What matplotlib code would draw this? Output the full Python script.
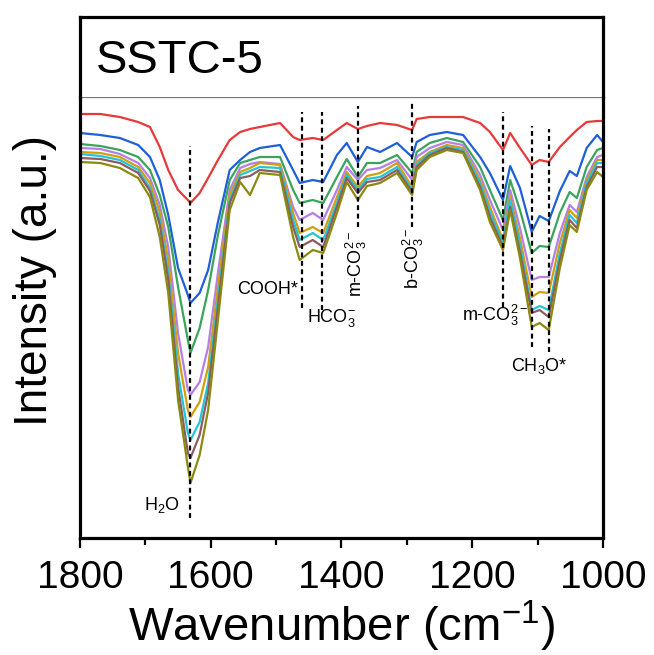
import matplotlib
matplotlib.use('Agg')
import matplotlib.pyplot as plt
from matplotlib.ticker import MultipleLocator

plt.rcParams['font.family'] = ['Liberation Sans', 'DejaVu Sans']
plt.rcParams['mathtext.fontset'] = 'custom'
plt.rcParams['mathtext.rm'] = 'Liberation Sans'
plt.rcParams['mathtext.it'] = 'Liberation Sans:italic'

# wavenumber points (cm-1)
wn = [1800, 1769, 1739, 1711, 1693, 1678, 1665, 1650, 1635, 1631, 1617, 1604, 1589,
      1571, 1555, 1540, 1525, 1494, 1474, 1464, 1444, 1428, 1407, 1392, 1375, 1361,
      1341, 1315, 1292, 1285, 1265, 1239, 1214, 1188, 1173, 1153, 1142, 1127, 1109,
      1097, 1083, 1066, 1051, 1040, 1025, 1009, 1000]

# intensities (a.u.), top curve first
red = [426, 426, 423, 418, 413, 393, 370, 350, 340, 337, 347, 362, 380, 400, 408, 411,
       413, 417, 403, 400, 402, 400, 410, 417, 411, 414, 417, 415, 410, 421, 423, 423,
       423, 417, 408, 390, 407, 392, 375, 380, 378, 393, 403, 410, 418, 419, 419]
blue = [407, 405, 402, 395, 383, 360, 325, 272, 245, 237, 247, 270, 318, 370, 380, 388,
        392, 395, 370, 357, 360, 358, 385, 397, 378, 393, 388, 397, 383, 398, 405, 408,
        405, 383, 367, 340, 374, 352, 308, 324, 319, 349, 369, 364, 392, 405, 398]
green = [396, 394, 390, 383, 370, 345, 313, 253, 200, 187, 212, 250, 305, 360, 377, 380,
         383, 383, 350, 337, 340, 337, 363, 381, 363, 377, 377, 385, 367, 388, 397, 402,
         398, 373, 350, 320, 360, 330, 287, 294, 293, 327, 348, 342, 373, 390, 392]
purple = [392, 391, 386, 377, 362, 335, 293, 207, 150, 145, 158, 193, 267, 350, 372, 376,
          378, 376, 333, 320, 327, 320, 350, 373, 360, 370, 372, 380, 360, 383, 392, 398,
          395, 365, 340, 310, 350, 312, 260, 263, 263, 307, 335, 328, 363, 383, 385]
gold = [388, 387, 383, 373, 357, 328, 280, 187, 130, 123, 138, 173, 253, 345, 368, 372,
        377, 375, 327, 307, 313, 307, 343, 368, 353, 364, 367, 377, 353, 378, 388, 395,
        392, 360, 333, 300, 343, 302, 243, 248, 247, 297, 330, 322, 360, 380, 380]
cyan = [386, 384, 380, 370, 352, 320, 267, 167, 107, 100, 118, 157, 240, 340, 365, 369,
        373, 372, 320, 300, 307, 300, 337, 365, 350, 361, 363, 373, 350, 375, 387, 393,
        390, 357, 328, 297, 340, 295, 230, 234, 230, 287, 325, 317, 357, 377, 377]
brown = [382, 381, 377, 367, 349, 315, 260, 153, 87, 82, 105, 147, 233, 337, 362, 364,
         370, 368, 313, 293, 300, 293, 333, 362, 347, 358, 360, 370, 348, 373, 385, 392,
         388, 353, 323, 293, 333, 288, 227, 230, 223, 280, 320, 312, 353, 373, 373]
olive = [378, 377, 372, 362, 343, 303, 247, 140, 73, 57, 85, 130, 220, 330, 358, 345,
         367, 365, 303, 280, 290, 287, 327, 358, 340, 354, 357, 367, 345, 370, 383, 390,
         387, 350, 318, 290, 330, 282, 213, 217, 210, 272, 315, 308, 350, 368, 363]

series = [red, blue, green, purple, gold, cyan, brown, olive]
colors = ['#E8393A', '#1F5FD8', '#3AA45A', '#B57EE8', '#D1A00E', '#22C5D5', '#8C5B63', '#8A8A10']

# marked bands: position, top and bottom of the dashed guide
band_wn = [1631, 1461, 1430, 1375, 1292, 1153, 1109, 1083]
band_top = [394, 428, 428, 434, 438, 428, 414, 411]
band_bot = [22, 232, 230, 313, 313, 233, 193, 188]

fig = plt.figure(figsize=(6.54, 6.55), dpi=100)
L, R = 80 / 654, 603 / 654
B, M, T = 1 - 538 / 655, 1 - 97 / 655, 1 - 17 / 655
ax = fig.add_axes([L, B, R - L, M - B])
axt = fig.add_axes([L, M, R - L, T - M])

for y, c in zip(series, colors):
    ax.plot(wn, y, color=c, lw=1.6)

for x, t, b in zip(band_wn, band_top, band_bot):
    ax.plot([x, x], [b, t], color='black', lw=1.6, ls=(0, (2.2, 1.6)))

fs = 13
ax.text(1675, 35, 'H$_2$O', fontsize=fs, ha='center', va='center')
ax.text(1466, 250, 'COOH*', fontsize=fs, ha='right', va='center')
ax.text(1453, 222, 'HCO$_3^{-}$', fontsize=fs, ha='left', va='center')
ax.text(1377, 276, 'm-CO$_3^{2-}$', fontsize=fs, ha='center', va='center', rotation=90)
ax.text(1290, 282, 'b-CO$_3^{2-}$', fontsize=fs, ha='center', va='center', rotation=90)
ax.text(1114, 225, 'm-CO$_3^{2-}$', fontsize=fs, ha='right', va='center')
ax.text(1097, 174, 'CH$_3$O*', fontsize=fs, ha='center', va='center')

ax.set_xlim(1800, 1000)
ax.set_ylim(2, 443)
ax.xaxis.set_major_locator(MultipleLocator(200))
ax.xaxis.set_minor_locator(MultipleLocator(100))
ax.set_yticks([])
ax.tick_params(axis='x', which='both', direction='out', width=1.6, labelsize=28, pad=9)
ax.tick_params(axis='x', which='major', length=7)
ax.tick_params(axis='x', which='minor', length=5)
for s in ['left', 'right', 'bottom']:
    ax.spines[s].set_linewidth(2.3)
ax.spines['top'].set_linewidth(0.9)
ax.spines['top'].set_color('#777777')
ax.set_xlabel('Wavenumber (cm$^{-1}$)', fontsize=34, labelpad=2)

axt.set_xticks([])
axt.set_yticks([])
for s in ['left', 'right', 'top']:
    axt.spines[s].set_linewidth(2.3)
axt.spines['bottom'].set_visible(False)
axt.text(0.03, 0.45, 'SSTC-5', fontsize=34, ha='left', va='center', transform=axt.transAxes)

fig.text(35 / 654, 1 - 280 / 655, 'Intensity (a.u.)', fontsize=33, rotation=90,
         ha='center', va='center')

fig.savefig('out.png', dpi=100)
